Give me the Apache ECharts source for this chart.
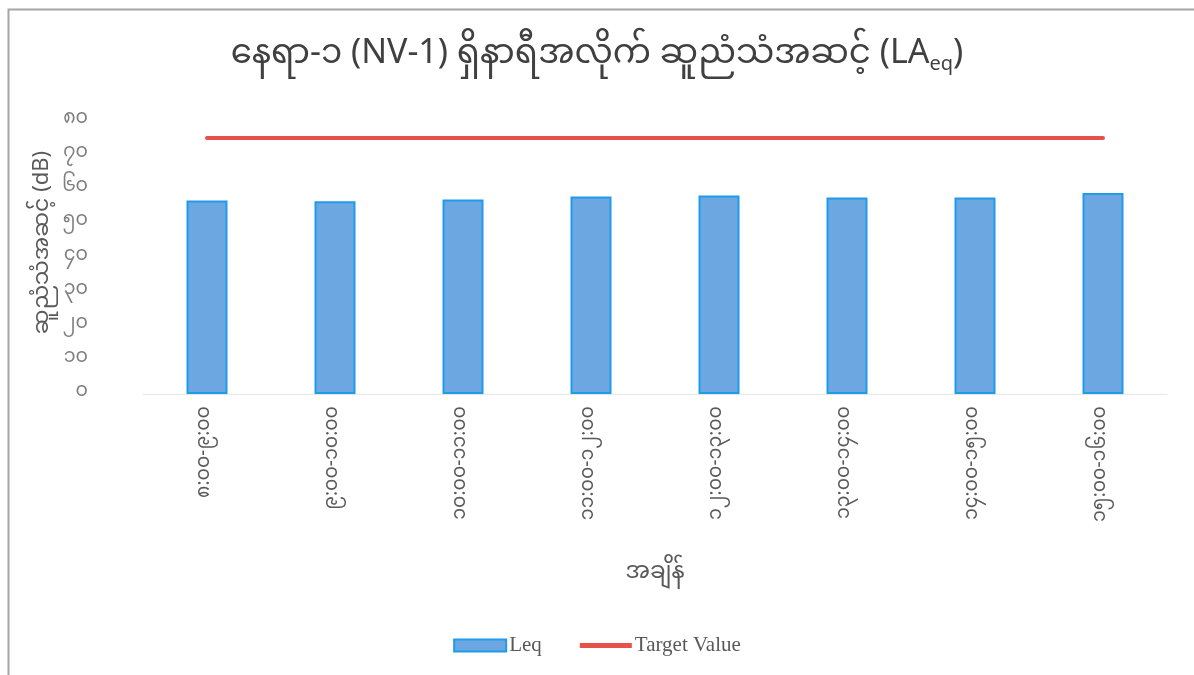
<!DOCTYPE html>
<html>
<head>
<meta charset="utf-8">
<title>နေရာ-၁ (NV-1) ဆူညံသံအဆင့်</title>
<script src="https://cdn.jsdelivr.net/npm/echarts@6/dist/echarts.min.js"></script>
<style>
  html, body { margin: 0; padding: 0; background: #ffffff; }
  #chart { width: 1194px; height: 675px; }
</style>
</head>
<body>
<div id="chart"></div>
<script>
// Hourly time slots (Myanmar numerals)
const categories = [
  '၈:၀၀-၉:၀၀',
  '၉:၀၀-၁၀:၀၀',
  '၁၀:၀၀-၁၁:၀၀',
  '၁၁:၀၀-၁၂:၀၀',
  '၁၂:၀၀-၁၃:၀၀',
  '၁၃:၀၀-၁၄:၀၀',
  '၁၄:၀၀-၁၅:၀၀',
  '၁၅:၀၀-၁၆:၀၀'
];
// Measured equivalent sound level per hour (dB)
const leqValues = [56.7, 56.5, 57.0, 57.9, 58.2, 57.6, 57.6, 58.9];
// Guideline level (dB)
const targetValues = [75, 75, 75, 75, 75, 75, 75, 75];
// Value-axis ticks and their Myanmar-numeral labels
const yTicks = [0, 10, 20, 30, 40, 50, 60, 70, 80];
const yTickLabels = ['၀', '၁၀', '၂၀', '၃၀', '၄၀', '၅၀', '၆၀', '၇၀', '၈၀'];

const chart = echarts.init(document.getElementById('chart'), null, { renderer: 'canvas' });

const textColor = '#595959';
const mmFont = '"Noto Sans Myanmar", "Noto Sans", "DejaVu Sans", sans-serif';

chart.setOption({
  backgroundColor: '#ffffff',
  animation: false,
  graphic: [{
    type: 'rect',
    left: 6, top: 7,
    shape: { width: 1300, height: 800 },
    style: { fill: 'none', stroke: '#a6a6a6', lineWidth: 2 },
    silent: true,
    z: -1
  }],
  title: {
    text: '{a|နေရာ-၁ (NV-1) ရှိနာရီအလိုက် ဆူညံသံအဆင့် (LA}{s|eq}{a|)}',
    left: 'center',
    top: 31,
    textStyle: {
      fontWeight: 'normal',
      rich: {
        a: { fontSize: 34, fontWeight: 'normal', color: '#404040', fontFamily: mmFont, lineHeight: 46 },
        s: { fontSize: 20, fontWeight: 'normal', color: '#404040', fontFamily: mmFont, lineHeight: 46, padding: [17, 0, 0, 0] }
      }
    }
  },
  legend: {
    bottom: 14,
    left: 'center',
    itemGap: 38,
    itemWidth: 52,
    itemHeight: 12,
    textStyle: { fontFamily: '"Liberation Serif", "Times New Roman", serif', fontSize: 21, color: textColor, padding: [0, 0, 0, -2] },
    data: [
      { name: 'Leq', icon: 'rect' },
      { name: 'Target Value', icon: 'path://M0,0 L52,0 L52,5 L0,5 Z', itemStyle: { color: '#e8504a' } }
    ]
  },
  grid: {
    left: 143,
    right: 27,
    top: 121,
    bottom: 281,
    containLabel: false
  },
  xAxis: {
    type: 'category',
    data: categories,
    name: 'အချိန်',
    nameLocation: 'middle',
    nameGap: 170,
    nameTextStyle: { fontFamily: mmFont, fontSize: 23, color: textColor },
    axisLine: { show: true, lineStyle: { color: '#e6e6e6', width: 1 } },
    axisTick: { show: false },
    axisLabel: {
      rotate: 90,
      margin: 12,
      fontFamily: mmFont,
      fontSize: 19,
      color: textColor,
      interval: 0
    }
  },
  yAxis: {
    type: 'value',
    min: yTicks[0],
    max: yTicks[yTicks.length - 1],
    interval: yTicks[1] - yTicks[0],
    name: 'ဆူညံသံအဆင့် (dB)',
    nameLocation: 'middle',
    nameRotate: 90,
    nameGap: 86,
    nameMoveOverlap: false,
    nameTextStyle: { fontFamily: mmFont, fontSize: 22, color: textColor, padding: [0, 0, 0, 30] },
    axisLine: { show: false },
    axisTick: { show: false },
    splitLine: { show: false },
    axisLabel: {
      margin: 55,
      align: 'right',
      fontFamily: mmFont,
      fontSize: 19,
      color: '#7f7f7f',
      formatter: function (v) {
        const i = yTicks.indexOf(v);
        return i >= 0 ? yTickLabels[i] : '';
      }
    }
  },
  series: [
    {
      name: 'Leq',
      type: 'bar',
      data: leqValues,
      barWidth: 41,
      itemStyle: {
        color: '#6da7e2',
        borderColor: '#1f9be9',
        borderWidth: 2
      }
    },
    {
      name: 'Target Value',
      type: 'line',
      data: targetValues,
      symbol: 'none',
      lineStyle: { color: '#e8504a', width: 4, cap: 'round' },
      itemStyle: { color: '#e8504a' }
    }
  ]
});
</script>
</body>
</html>
